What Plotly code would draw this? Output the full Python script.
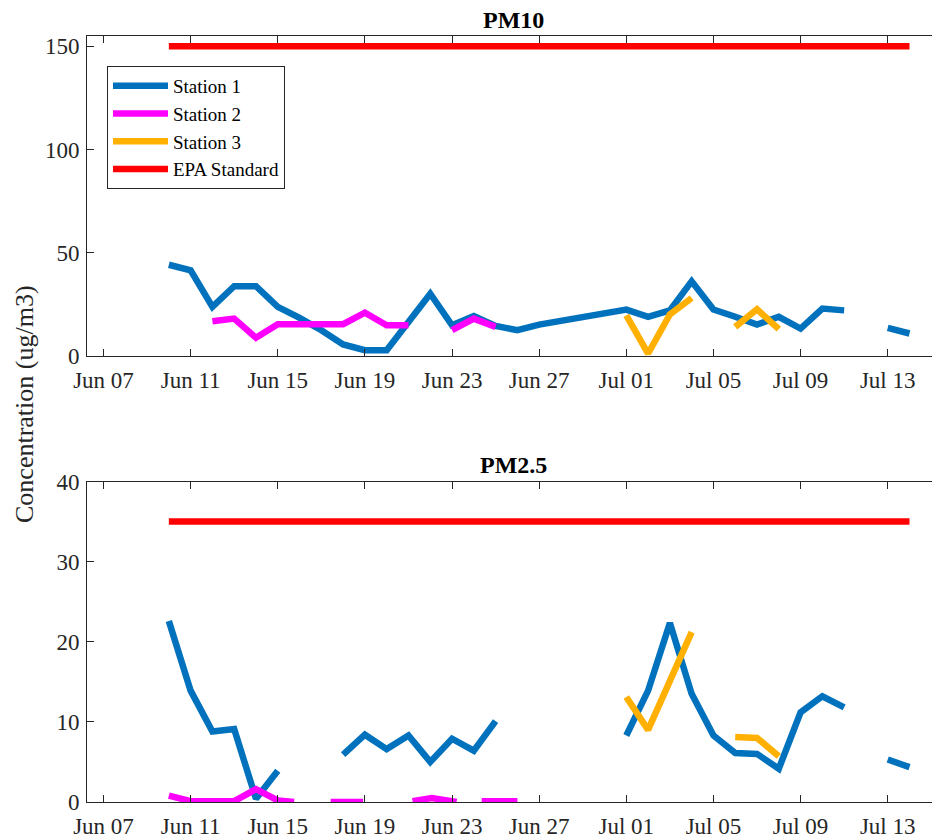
import plotly.graph_objects as go
from plotly.subplots import make_subplots

# ---------------- data ----------------
# PM10
pm10_s1_dates = ["2015-06-10", "2015-06-11", "2015-06-12", "2015-06-13", "2015-06-14", "2015-06-15",
                 "2015-06-16", "2015-06-17", "2015-06-18", "2015-06-19", "2015-06-20", "2015-06-21",
                 "2015-06-22", "2015-06-23", "2015-06-24", "2015-06-25", "2015-06-26", "2015-06-27",
                 "2015-07-01", "2015-07-02", "2015-07-03", "2015-07-04", "2015-07-05", "2015-07-06",
                 "2015-07-07", "2015-07-08", "2015-07-09", "2015-07-10", "2015-07-11", "2015-07-12",
                 "2015-07-13", "2015-07-14"]
pm10_s1_vals = [44.2, 41.5, 23.8, 33.8, 33.8, 23.8, 18.5, 12.5, 5.6, 2.8, 2.8, 16.5,
                30.2, 14.9, 19.4, 14.6, 12.5, 15.2,
                22.5, 19.0, 22.1, 36.2, 22.5, 19.0, 15.2, 19.0, 13.3, 23.0, 22.1, None,
                13.6, 10.9]

pm10_s2_dates = ["2015-06-12", "2015-06-13", "2015-06-14", "2015-06-15", "2015-06-16", "2015-06-17",
                 "2015-06-18", "2015-06-19", "2015-06-20", "2015-06-21", "2015-06-22", "2015-06-23",
                 "2015-06-24", "2015-06-25"]
pm10_s2_vals = [16.8, 18.1, 8.8, 15.4, 15.4, 15.4, 15.4, 21.0, 14.9, 14.9, None, 12.5, 18.1, 14.1]

pm10_s3_dates = ["2015-07-01", "2015-07-02", "2015-07-03", "2015-07-04", "2015-07-05",
                 "2015-07-06", "2015-07-07", "2015-07-08"]
pm10_s3_vals = [19.7, 1.2, 20.1, 28.1, None, 14.1, 22.6, 13.0]

epa_dates = ["2015-06-10", "2015-07-14"]
epa_pm10 = [150, 150]
epa_pm25 = [35, 35]

# PM2.5
pm25_s1_dates = ["2015-06-10", "2015-06-11", "2015-06-12", "2015-06-13", "2015-06-14", "2015-06-15",
                 "2015-06-16", "2015-06-18", "2015-06-19", "2015-06-20", "2015-06-21", "2015-06-22",
                 "2015-06-23", "2015-06-24", "2015-06-25", "2015-06-26",
                 "2015-07-01", "2015-07-02", "2015-07-03", "2015-07-04", "2015-07-05", "2015-07-06",
                 "2015-07-07", "2015-07-08", "2015-07-09", "2015-07-10", "2015-07-11", "2015-07-12",
                 "2015-07-13", "2015-07-14"]
pm25_s1_vals = [22.6, 13.9, 8.8, 9.1, 0.4, 3.9,
                None, 5.9, 8.4, 6.6, 8.3, 5.0,
                7.9, 6.4, 10.1, None,
                8.3, 13.9, 22.35, 13.5, 8.3, 6.1,
                6.0, 4.15, 11.2, 13.2, 11.8, None,
                5.3, 4.35]

pm25_s2_dates = ["2015-06-10 00:00", "2015-06-11 00:00", "2015-06-12 00:00", "2015-06-13 00:00",
                 "2015-06-14 00:00", "2015-06-15 00:00", "2015-06-15 18:00", "2015-06-16 12:00",
                 "2015-06-17 10:20", "2015-06-18 22:00", "2015-06-20 00:00",
                 "2015-06-21 04:30", "2015-06-22 01:40", "2015-06-23 05:00", "2015-06-24 00:00",
                 "2015-06-24 08:40", "2015-06-26 00:00"]
pm25_s2_vals = [0.8, 0.1, 0.1, 0.1, 1.6, 0.2, 0.0, None,
                0.0, 0.0, None,
                0.1, 0.5, 0.0, None,
                0.1, 0.1]

pm25_s3_dates = ["2015-07-01", "2015-07-02", "2015-07-04", "2015-07-05",
                 "2015-07-06", "2015-07-07", "2015-07-08"]
pm25_s3_vals = [13.1, 9.0, 21.2, None, 8.1, 8.0, 5.7]

series_names = ["Station 1", "Station 2", "Station 3", "EPA Standard"]
series_colors = ["#0072BD", "#FF00FF", "#FFB000", "#FF0000"]

# ---------------- figure ----------------
fig = make_subplots(rows=2, cols=1, shared_xaxes=False, vertical_spacing=0.16)

LW = 6.5
FONT = "Liberation Serif"

top = [(pm10_s1_dates, pm10_s1_vals), (pm10_s2_dates, pm10_s2_vals),
       (pm10_s3_dates, pm10_s3_vals), (epa_dates, epa_pm10)]
bot = [(pm25_s1_dates, pm25_s1_vals), (pm25_s2_dates, pm25_s2_vals),
       (pm25_s3_dates, pm25_s3_vals), (epa_dates, epa_pm25)]

for i, (d, v) in enumerate(top):
    fig.add_trace(go.Scatter(x=d, y=v, mode="lines", name=series_names[i],
                             line=dict(color=series_colors[i], width=LW),
                             connectgaps=False, showlegend=True), row=1, col=1)
for i, (d, v) in enumerate(bot):
    fig.add_trace(go.Scatter(x=d, y=v, mode="lines", name=series_names[i],
                             line=dict(color=series_colors[i], width=LW),
                             connectgaps=False, showlegend=False), row=2, col=1)

# the page adds an 8px body margin, so the figure is drawn 8px in from the top-left
OFF = 8
W, H = 940 - OFF, 839 - OFF
L, R, T, B = 87 - OFF, 0, 36 - OFF, 37
plot_h = H - T - B
plot_w = W - L - R
def py(Y):  # screen Y -> paper fraction
    return (H + OFF - B - Y) / plot_h
def px(X):  # screen X -> paper fraction
    return (X - OFF - L) / plot_w

top_dom = [py(356), 1.0]
bot_dom = [0.0, py(481.5)]

xrange = ["2015-06-06 05:50", "2015-07-15 09:36"]
axis_common = dict(showgrid=False, zeroline=False, showline=True, linecolor="#262626",
                   linewidth=1, mirror="ticks", ticks="inside", ticklen=7,
                   tickcolor="#262626", tickwidth=1, automargin=False,
                   tickfont=dict(family=FONT, size=23, color="#262626"))

fig.update_xaxes(range=xrange, tick0="2015-06-07", dtick=4 * 86400000,
                 tickformat="%b %d", ticklabelstandoff=3, **axis_common)
fig.update_yaxes(ticklabelstandoff=2, **axis_common)
fig.update_yaxes(range=[0, 155], tickvals=[0, 50, 100, 150], domain=top_dom, row=1, col=1)
fig.update_yaxes(range=[0, 40], tickvals=[0, 10, 20, 30, 40], domain=bot_dom, row=2, col=1)

fig.update_layout(
    width=W, height=H,
    margin=dict(l=L, r=R, t=T, b=B),
    paper_bgcolor="white", plot_bgcolor="white",
    font=dict(family=FONT, color="#262626"),
    legend=dict(x=px(107), y=py(66), xanchor="left", yanchor="top",
                bgcolor="white", bordercolor="#262626", borderwidth=1,
                font=dict(family=FONT, size=19, color="#000000"),
                tracegroupgap=0, itemwidth=55),
    annotations=[
        dict(text="<b>PM10</b>", x=0.5, y=1.0, xref="paper", yref="paper",
             xanchor="center", yanchor="bottom", yshift=1, showarrow=False,
             font=dict(family=FONT, size=24, color="#000000")),
        dict(text="<b>PM2.5</b>", x=0.5, y=bot_dom[1], xref="paper", yref="paper",
             xanchor="center", yanchor="bottom", yshift=2, showarrow=False,
             font=dict(family=FONT, size=24, color="#000000")),
        dict(text="Concentration (ug/m3)", x=px(25), y=py(404), xref="paper",
             yref="paper", xanchor="center", yanchor="middle", textangle=-90,
             showarrow=False, font=dict(family=FONT, size=26, color="#262626")),
    ],
)

fig.write_html("out.html")
